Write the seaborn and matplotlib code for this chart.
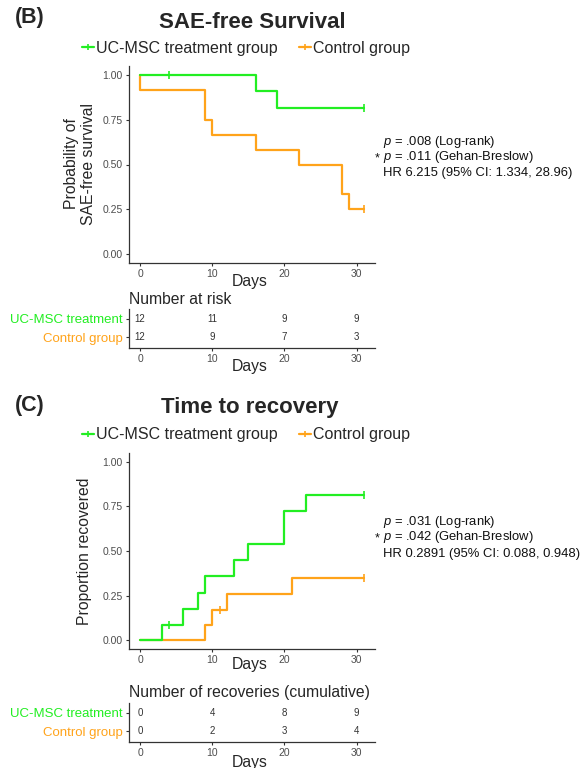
import matplotlib
matplotlib.use("Agg")
import matplotlib.pyplot as plt
from matplotlib.lines import Line2D
import seaborn as sns

# ---------------- data ----------------
legend_labels = ["UC-MSC treatment group", "Control group"]
risk_rows = ["UC-MSC treatment", "Control group"]
risk_days = [0, 10, 20, 30]
x_ticks = [0, 10, 20, 30]
y_ticks = [0.0, 0.25, 0.5, 0.75, 1.0]
y_tick_labels = ["0.00", "0.25", "0.50", "0.75", "1.00"]

# (B) SAE-free survival
sae_t_time = [0, 16, 19, 31]
sae_t_surv = [1.0, 0.909, 0.818, 0.818]
sae_t_cens_time = [4, 31]
sae_t_cens_surv = [1.0, 0.818]
sae_c_time = [0, 0, 9, 10, 16, 22, 28, 29, 31]
sae_c_surv = [1.0, 0.917, 0.75, 0.667, 0.583, 0.5, 0.333, 0.25, 0.25]
sae_c_cens_time = [31]
sae_c_cens_surv = [0.25]
sae_risk_t = [12, 11, 9, 9]
sae_risk_c = [12, 9, 7, 3]
sae_stats = [r"$p$ = .008 (Log-rank)", r"$p$ = .011 (Gehan-Breslow)",
             "HR 6.215 (95% CI: 1.334, 28.96)"]

# (C) Time to recovery
rec_t_time = [0, 3, 6, 8, 9, 13, 15, 20, 23, 31]
rec_t_prop = [0.0, 0.083, 0.175, 0.267, 0.358, 0.45, 0.542, 0.725, 0.817, 0.817]
rec_t_cens_time = [4, 31]
rec_t_cens_prop = [0.083, 0.817]
rec_c_time = [0, 9, 10, 12, 21, 31]
rec_c_prop = [0.0, 0.083, 0.167, 0.26, 0.35, 0.35]
rec_c_cens_time = [11, 31]
rec_c_cens_prop = [0.167, 0.35]
rec_cum_t = [0, 4, 8, 9]
rec_cum_c = [0, 2, 3, 4]
rec_stats = [r"$p$ = .031 (Log-rank)", r"$p$ = .042 (Gehan-Breslow)",
             "HR 0.2891 (95% CI: 0.088, 0.948)"]

# ---------------- style ----------------
sns.set_theme(style="ticks")
plt.rcParams["font.family"] = ["Liberation Sans", "DejaVu Sans"]
plt.rcParams["mathtext.fontset"] = "custom"
plt.rcParams["mathtext.it"] = "Liberation Sans:italic"
plt.rcParams["mathtext.rm"] = "Liberation Sans"

GREEN = "#22EE22"
ORANGE = "#FFA31A"
DARK = "#333333"
TICKC = "#4D4D4D"

W, H = 584, 768
fig = plt.figure(figsize=(W / 100, H / 100), dpi=100)


def rect(l, t, r, b):
    return [l / W, 1 - b / H, (r - l) / W, (b - t) / H]


def ftext(x, y, s, **kw):
    fig.text(x / W, 1 - y / H, s, **kw)


def style_axes(ax):
    sns.despine(ax=ax)
    for sp in ("left", "bottom"):
        ax.spines[sp].set_color(DARK)
        ax.spines[sp].set_linewidth(0.9)
    ax.tick_params(axis="both", length=2.5, width=0.8, color=DARK,
                   labelsize=7.5, labelcolor=TICKC, pad=2)
    ax.set_xlim(-1.55, 32.55)
    ax.set_xticks(x_ticks)
    ax.set_xlabel("")
    ax.set_ylabel("")


def km_panel(ax, t_time, t_val, t_ct, t_cv, c_time, c_val, c_ct, c_cv):
    sns.lineplot(x=c_time, y=c_val, ax=ax, color=ORANGE, lw=1.6,
                 estimator=None, sort=False, drawstyle="steps-post", legend=False)
    sns.lineplot(x=t_time, y=t_val, ax=ax, color=GREEN, lw=1.6,
                 estimator=None, sort=False, drawstyle="steps-post", legend=False)
    sns.scatterplot(x=c_ct, y=c_cv, ax=ax, color=ORANGE, marker="|", s=30,
                    linewidth=1.2, legend=False, zorder=5)
    sns.scatterplot(x=t_ct, y=t_cv, ax=ax, color=GREEN, marker="|", s=30,
                    linewidth=1.2, legend=False, zorder=5)
    style_axes(ax)
    ax.set_ylim(-0.05, 1.05)
    ax.set_yticks(y_ticks)
    ax.set_yticklabels(y_tick_labels)


def risk_panel(ax, vals_t, vals_c):
    for row_y, vals in ((2, vals_t), (1, vals_c)):
        for d, v in zip(risk_days, vals):
            ax.text(d, row_y, str(v), ha="center", va="center",
                    fontsize=7, color=DARK)
    style_axes(ax)
    ax.set_ylim(0.4, 2.55)
    ax.set_yticks([2, 1])
    ax.set_yticklabels(risk_rows, fontsize=9.5)
    for lab, col in zip(ax.get_yticklabels(), (GREEN, ORANGE)):
        lab.set_color(col)


def legend_at(ycen):
    handles = [Line2D([0], [0], color=GREEN, lw=1.6, marker="|", markersize=5, mew=1.2),
               Line2D([0], [0], color=ORANGE, lw=1.6, marker="|", markersize=5, mew=1.2)]
    fig.legend(handles, legend_labels, loc="center", ncol=2, frameon=False,
               bbox_to_anchor=(246 / W, 1 - ycen / H), fontsize=11.5,
               handlelength=0.75, handletextpad=0.15, columnspacing=1.3,
               borderpad=0.1)


def stats_at(x, ys, lines):
    for y, s in zip(ys, lines):
        ftext(x, y, s, ha="left", va="center", fontsize=9.4, color="#111111")
    ftext(x - 8, ys[1] + 1, "*", ha="left", va="center", fontsize=9, color="#111111")


# ---------------- panel B ----------------
ftext(15, 17, "(B)", ha="left", va="center", fontsize=15.5, fontweight="bold")
ftext(252, 23, "SAE-free Survival", ha="center", va="center", fontsize=16, fontweight="bold")
legend_at(48)

axB = fig.add_axes(rect(129, 66, 375, 263))
km_panel(axB, sae_t_time, sae_t_surv, sae_t_cens_time, sae_t_cens_surv,
         sae_c_time, sae_c_surv, sae_c_cens_time, sae_c_cens_surv)
ftext(80, 164, "Probability of\nSAE-free survival", rotation=90, ha="center",
      va="center", fontsize=11.3, multialignment="center", linespacing=1.1)
ftext(250, 281, "Days", ha="center", va="center", fontsize=11.3)
stats_at(383, [142, 157, 173], sae_stats)

ftext(129, 300, "Number at risk", ha="left", va="center", fontsize=11.3)
axBr = fig.add_axes(rect(129, 309, 375, 348))
risk_panel(axBr, sae_risk_t, sae_risk_c)
ftext(250, 367, "Days", ha="center", va="center", fontsize=11.3)

# ---------------- panel C ----------------
ftext(15, 405, "(C)", ha="left", va="center", fontsize=15.5, fontweight="bold")
ftext(250, 407, "Time to recovery", ha="center", va="center", fontsize=16, fontweight="bold")
legend_at(435)

axC = fig.add_axes(rect(129, 453, 375, 649))
km_panel(axC, rec_t_time, rec_t_prop, rec_t_cens_time, rec_t_cens_prop,
         rec_c_time, rec_c_prop, rec_c_cens_time, rec_c_cens_prop)
ftext(85, 551, "Proportion recovered", rotation=90, ha="center", va="center",
      fontsize=11.3)
ftext(250, 665, "Days", ha="center", va="center", fontsize=11.3)
stats_at(383, [522, 537, 554], rec_stats)

ftext(129, 692, "Number of recoveries (cumulative)", ha="left", va="center", fontsize=11.3)
axCr = fig.add_axes(rect(129, 703, 375, 742))
risk_panel(axCr, rec_cum_t, rec_cum_c)
ftext(250, 762, "Days", ha="center", va="center", fontsize=11.3)

fig.savefig("out.png", dpi=100)
